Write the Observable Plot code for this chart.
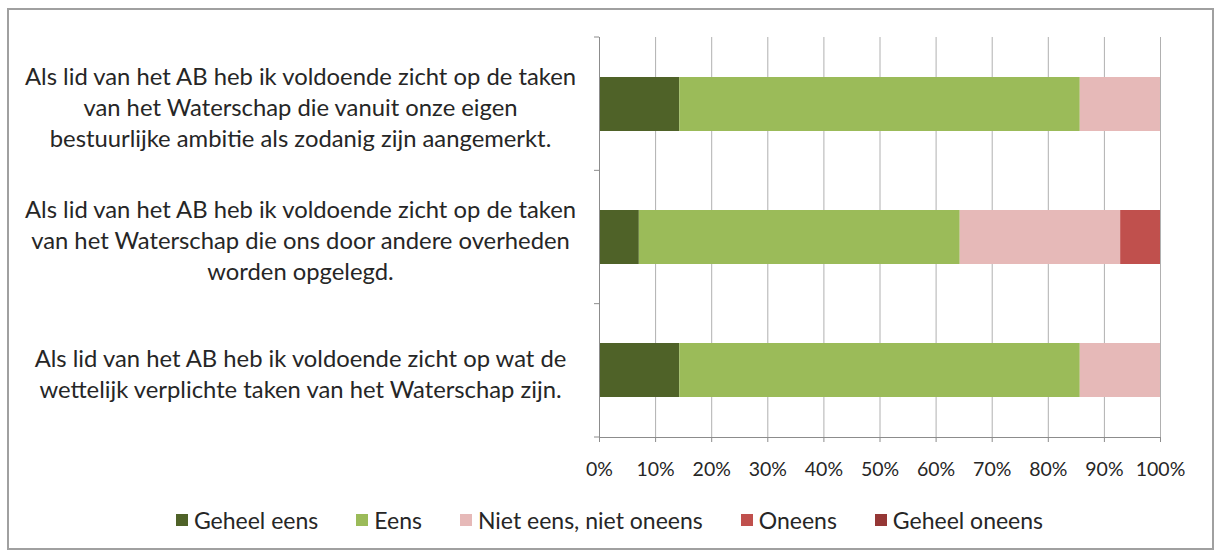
<!DOCTYPE html>
<html>
<head>
<meta charset="utf-8">
<script src="https://cdn.jsdelivr.net/npm/d3@7"></script>
<script src="https://cdn.jsdelivr.net/npm/@observablehq/plot@0.6"></script>
<style>
  html, body { margin: 0; padding: 0; background: #fff; }
  #wrap { position: relative; width: 1219px; height: 557px; font-family: Lato, "Open Sans", sans-serif; }
  #frame { position: absolute; left: 7px; top: 8px; width: 1203px; height: 538px; border: 2px solid #a0a0a0; pointer-events: none; }
  #chart { position: absolute; left: 0; top: 0; }
  #legend { position: absolute; left: 0; width: 1219px; top: 506px; display: flex; justify-content: center; font-size: 23px; color: #262626; }
  .item { display: flex; align-items: center; margin: 0 19px; }
  .sw { width: 12px; height: 12px; margin-right: 6px; }
</style>
</head>
<body>
<div id="wrap">
  <div id="chart"></div>
  <div id="legend"></div>
  <div id="frame"></div>
</div>
<script>
// Categories (top to bottom)
const questions = ["Q1", "Q2", "Q3"];
const questionLabels = [
  "Als lid van het AB heb ik voldoende zicht op de taken\nvan het Waterschap die vanuit onze eigen\nbestuurlijke ambitie als zodanig zijn aangemerkt.",
  "Als lid van het AB heb ik voldoende zicht op de taken\nvan het Waterschap die ons door andere overheden\nworden opgelegd.",
  "Als lid van het AB heb ik voldoende zicht op wat de\nwettelijk verplichte taken van het Waterschap zijn."
];
// Response categories and their shares per question
const responses = ["Geheel eens", "Eens", "Niet eens, niet oneens", "Oneens", "Geheel oneens"];
const responseColors = ["#4f6228", "#9bbb59", "#e6b9b8", "#c0504d", "#953735"];
const geheelEens   = [0.143, 0.071, 0.143];
const eens         = [0.714, 0.572, 0.714];
const nietEens     = [0.143, 0.286, 0.143];
const oneens       = [0.000, 0.071, 0.000];
const geheelOneens = [0.000, 0.000, 0.000];
const xTicks = [0, 0.1, 0.2, 0.3, 0.4, 0.5, 0.6, 0.7, 0.8, 0.9, 1.0];

const series = [geheelEens, eens, nietEens, oneens, geheelOneens];
const data = [];
questions.forEach((q, i) => {
  responses.forEach((r, j) => {
    data.push({question: q, response: r, value: series[j][i]});
  });
});
const labelOf = Object.fromEntries(questions.map((q, i) => [q, questionLabels[i]]));

// band-boundary ticks on the y axis (left of the axis line)
function yBoundaryTicks(index, scales, values, dims) {
  const g = d3.create("svg:g");
  const x0 = scales.x(0);
  const inner = dims.height - dims.marginTop - dims.marginBottom;
  for (let k = 0; k <= questions.length; k++) {
    const y = dims.marginTop + k * (inner / questions.length);
    g.append("line").attr("x1", x0 - 5).attr("x2", x0).attr("y1", y).attr("y2", y)
      .attr("stroke", "#8c8c8c").attr("stroke-width", 1);
  }
  return g.node();
}

const chart = Plot.plot({
  width: 1219,
  height: 500,
  marginLeft: 599,
  marginRight: 59,
  marginTop: 37,
  marginBottom: 63,
  style: {fontFamily: "Lato, 'Open Sans', sans-serif", background: "transparent", color: "#262626"},
  x: {domain: [0, 1]},
  y: {domain: questions, paddingInner: 0.594, paddingOuter: 0.297},
  color: {domain: responses, range: responseColors},
  marks: [
    Plot.gridX(xTicks, {stroke: "#b0b0b0", strokeOpacity: 1, strokeWidth: 1}),
    Plot.barX(data, Plot.stackX({x: "value", y: "question", fill: "response", order: responses})),
    Plot.ruleX([0], {stroke: "#8c8c8c"}),
    Plot.frame({anchor: "bottom", stroke: "#8c8c8c"}),
    yBoundaryTicks,
    Plot.axisX(xTicks, {
      anchor: "bottom", tickFormat: d3.format(".0%"), tickSize: 5, tickPadding: 20,
      fontSize: 19.5, stroke: "#8c8c8c", label: null
    }),
    Plot.axisY({
      anchor: "left", tickSize: 0, tickPadding: 299, textAnchor: "middle",
      tickFormat: d => labelOf[d], fontSize: 23.8, lineHeight: 1.3, dy: 2, label: null
    })
  ]
});
document.getElementById("chart").appendChild(chart);

const legend = document.getElementById("legend");
responses.forEach((r, j) => {
  const item = document.createElement("div");
  item.className = "item";
  const sw = document.createElement("div");
  sw.className = "sw";
  sw.style.background = responseColors[j];
  const t = document.createElement("span");
  t.textContent = r;
  item.appendChild(sw);
  item.appendChild(t);
  legend.appendChild(item);
});
</script>
</body>
</html>
